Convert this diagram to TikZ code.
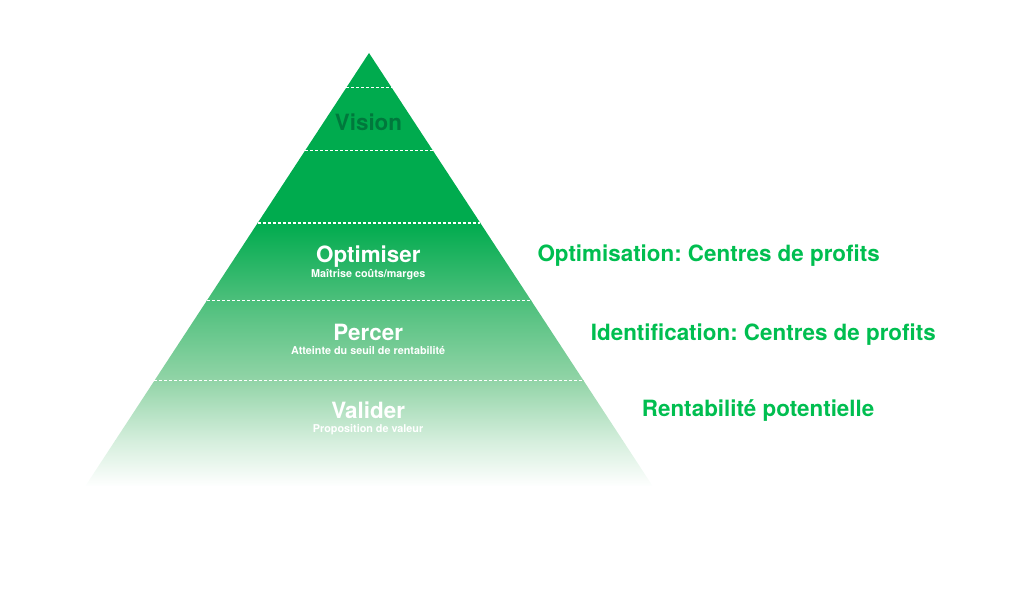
\documentclass[tikz,border=0pt]{standalone}
\usepackage{fontspec}
\setmainfont{TeX Gyre Heros}
\usetikzlibrary{calc}
\frenchspacing

\definecolor{pyrgreen}{RGB}{0,171,78}
\definecolor{fadeA}{RGB}{76,191,123}
\definecolor{fadeB}{RGB}{146,212,167}
\definecolor{fadeC}{RGB}{212,238,220}
\definecolor{visiongreen}{RGB}{0,120,60}
\definecolor{labelgreen}{RGB}{0,190,80}

\tikzset{
  level/.style={font=\bfseries\fontsize{22.4}{24}\selectfont, text=white, anchor=base, inner sep=0pt},
  sublevel/.style={font=\bfseries\fontsize{10.8}{12}\selectfont, text=white, anchor=base, inner sep=0pt},
  sidelabel/.style={font=\bfseries\fontsize{22.4}{24}\selectfont, text=labelgreen, anchor=base west, inner sep=0pt},
  tierline/.style={white, line width=1.1pt, dash pattern=on 3pt off 2pt},
  band/.style={draw=none}
}

\begin{document}
\begin{tikzpicture}[x=1pt,y=-1pt]
\useasboundingbox (0,0) rectangle (1024,593);

% pyramid outline
\coordinate (apex) at (369,53);
\coordinate (bl) at (85.4,486);
\coordinate (br) at (652.6,486);

% fill: solid green at the top, fading to white towards the base
\begin{scope}
  \clip (apex) -- (br) -- (bl) -- cycle;
  \fill[pyrgreen] (0,40) rectangle (1024,223.5);
  \shade[band, top color=pyrgreen, bottom color=fadeA] (0,223) rectangle (1024,300.5);
  \shade[band, top color=fadeA, bottom color=fadeB] (0,300) rectangle (1024,380.5);
  \shade[band, top color=fadeB, bottom color=fadeC] (0,380) rectangle (1024,440.5);
  \shade[band, top color=fadeC, bottom color=white] (0,440) rectangle (1024,487);
\end{scope}

% tier separators
\draw[tierline] ($(apex)!0.0797!(bl)$) -- ($(apex)!0.0797!(br)$);
\draw[tierline] ($(apex)!0.2252!(bl)$) -- ($(apex)!0.2252!(br)$);
\draw[tierline] ($(apex)!0.3926!(bl)$) -- ($(apex)!0.3926!(br)$);
\draw[tierline] ($(apex)!0.5716!(bl)$) -- ($(apex)!0.5716!(br)$);
\draw[tierline] ($(apex)!0.7564!(bl)$) -- ($(apex)!0.7564!(br)$);

% tier labels
\node[level, text=visiongreen] (vision) at (368.5,131) {Vision};
\node[level] (optimiser) at (368.3,262.3) {Optimiser};
\node[sublevel] (optsub) at (368.3,277.3) {Maîtrise coûts/marges};
\node[level] (percer) at (368.2,340) {Percer};
\node[sublevel] (persub) at (368.2,354.3) {Atteinte du seuil de rentabilité};
\node[level] (valider) at (368.1,418.3) {Valider};
\node[sublevel] (valsub) at (368.1,432.7) {Proposition de valeur};

% side labels
\node[sidelabel] (optlabel) at (537.3,261.7) {Optimisation: Centres de profits};
\node[sidelabel] (idlabel) at (590.7,340) {Identification: Centres de profits};
\node[sidelabel] (rentlabel) at (641.7,416.5) {Rentabilité potentielle};
\end{tikzpicture}
\end{document}
